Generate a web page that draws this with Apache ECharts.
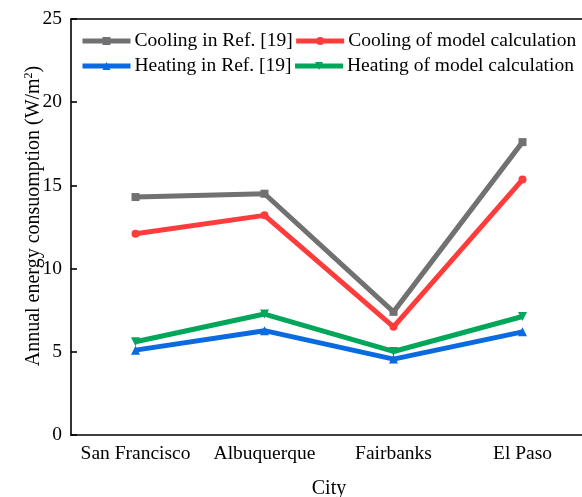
<!DOCTYPE html>
<html><head><meta charset="utf-8">
<script src="https://cdn.jsdelivr.net/npm/echarts@6/dist/echarts.min.js"></script>
<style>html,body{margin:0;padding:0;background:#fff}#c{width:582px;height:497px}</style>
</head><body><div id="c"></div>
<script>
const cities = ['San Francisco', 'Albuquerque', 'Fairbanks', 'El Paso'];
const coolingRef = [14.3, 14.5, 7.4, 17.6];
const coolingModel = [12.1, 13.2, 6.5, 15.35];
const heatingRef = [5.1, 6.27, 4.56, 6.2];
const heatingModel = [5.6, 7.27, 5.02, 7.12];
const yTicks = [0, 5, 10, 15, 20, 25];

const names = ['Cooling in Ref. [19]', 'Cooling of model calculation', 'Heating in Ref. [19]', 'Heating of model calculation'];
const colors = ['#717171', '#ff3c3c', '#0a6ae0', '#00a65a'];
const font = 'Liberation Serif, Times New Roman, serif';

function mk(i, data, symbol, size, rot) {
  return {
    name: names[i], type: 'line', data: data, xAxisIndex: 0,
    symbol: symbol, symbolSize: size, symbolRotate: rot || 0,
    itemStyle: { color: colors[i] },
    lineStyle: { color: colors[i], width: 5 },
    z: 3
  };
}
const legendText = { fontFamily: font, fontSize: 19.5, color: '#000', padding: [0, 0, 0, -1] };
const legendBase = { padding: 0, width: 520, orient: 'horizontal', itemWidth: 48, itemHeight: 10, itemGap: 1, textStyle: legendText, lineStyle: { width: 5 } };

const chart = echarts.init(document.getElementById('c'));
chart.setOption({
  animation: false,
  backgroundColor: '#fff',
  textStyle: { fontFamily: font },
  grid: { left: 71, top: 19, right: -5, bottom: 62, show: false, containLabel: false, outerBoundsMode: 'none' },
  legend: [
    Object.assign({ data: [names[0], names[1]], left: 80, top: 31 }, legendBase),
    Object.assign({ data: [names[2], names[3]], left: 80, top: 56 }, legendBase)
  ],
  xAxis: [{
    type: 'category', data: cities, boundaryGap: true,
    name: 'City', nameLocation: 'middle', nameGap: 44, nameMoveOverlap: false,
    nameTextStyle: { fontFamily: font, fontSize: 20, color: '#000' },
    axisLine: { lineStyle: { color: '#000', width: 1.6 } },
    axisTick: { inside: true, length: 6, alignWithLabel: true, lineStyle: { color: '#000', width: 1.6 } },
    axisLabel: { fontFamily: font, fontSize: 19.5, color: '#000', margin: 9, interval: 0, hideOverlap: false },
    splitLine: { show: false }
  }, {
    type: 'category', data: cities, position: 'top', boundaryGap: true,
    axisLine: { show: true, lineStyle: { color: '#000', width: 1.6 } },
    axisTick: { show: false }, axisLabel: { show: false }, splitLine: { show: false }
  }],
  yAxis: {
    type: 'value', min: yTicks[0], max: yTicks[yTicks.length - 1], interval: 5,
    name: 'Annual energy consuomption (W/m{sup|2})', nameLocation: 'middle', nameGap: 27, nameMoveOverlap: false,
    nameTextStyle: { fontFamily: font, fontSize: 20, color: '#000', padding: [0, 0, 0, 22],
      rich: { sup: { fontFamily: font, fontSize: 12, color: '#000', verticalAlign: 'top', padding: [0, 0, 9, 0] } } },
    axisLine: { show: true, lineStyle: { color: '#000', width: 1.6 } },
    axisTick: { show: true, inside: true, length: 6, lineStyle: { color: '#000', width: 1.6 } },
    axisLabel: { fontFamily: font, fontSize: 19.5, color: '#000', margin: 9 },
    splitLine: { show: false }
  },
  series: [
    mk(0, coolingRef, 'rect', 8),
    mk(1, coolingModel, 'circle', 8),
    mk(2, heatingRef, 'triangle', 9),
    mk(3, heatingModel, 'triangle', 9, 180)
  ]
});
</script></body></html>
